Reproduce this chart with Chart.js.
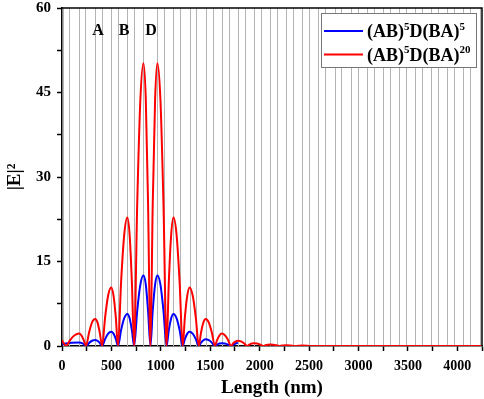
<!DOCTYPE html>
<html><head><meta charset="utf-8">
<script src="https://cdn.jsdelivr.net/npm/chart.js@4.4.1/dist/chart.umd.min.js"></script>
<style>html,body{margin:0;padding:0;background:#fff;} #wrap{width:484px;height:399px;}</style>
</head><body><div id="wrap"><canvas id="c" width="484" height="399"></canvas></div>
<script>
const seriesNames = ['(AB)^5D(BA)^5', '(AB)^5D(BA)^20'];
const seriesColors = ['#0000ff', '#ff0000'];

const blueLength = [0,40,100,172,208,243, 274,304,335,359,382,406, 437,467,498,521,544,567, 598,630,661,684,707,730, 761,793,824,848,871,895, 918,942,965,996,1027,1058, 1081,1105,1128,1159,1190,1221, 1244,1268,1291,1322,1353,1384, 1407,1431,1454,1485,1516,1547, 1570,1594,1617,1648,1679,1710, 1733,1757,1780];
const blueField = [0.3,0.45,0.58,0.6,0.45,0, 0.54,0.93,1.07,0.93,0.54,0, 1.27,2.2,2.54,2.2,1.27,0, 2.84,4.94,5.68,4.94,2.84,0, 6.25,10.9,12.5,10.9,6.25,0, 6.25,10.9,12.5,10.9,6.25,0, 2.84,4.94,5.68,4.94,2.84,0, 1.27,2.2,2.54,2.2,1.27,0, 0.6,1.03,1.19,1.03,0.6,0, 0.25,0.43,0.5,0.43,0.25,0, 0.25,0.45,0.55];

const redLength = [0,20,40, 84,128,172,196,219,243, 274,304,335,359,382,406, 437,467,498,521,544,567, 598,630,661,684,707,730, 761,793,824,848,871,895, 918,942,965,996,1027,1058, 1081,1105,1128,1159,1190,1221, 1244,1268,1291,1322,1353,1384, 1407,1431,1454,1485,1516,1547, 1570,1594,1617,1648,1679,1710, 1733,1757,1780,1811,1842,1873, 1896,1920,1943,1974,2005,2036, 2059,2083,2106,2137,2168,2199, 2230,2269,2310,2362, 2432,2525,4250];
const redField = [1.0,0.45,0, 1.1,1.9,2.2,1.9,1.1,0, 2.4,4.2,4.8,4.2,2.4,0, 5.2,9.0,10.4,9.0,5.2,0, 11.4,19.8,22.8,19.8,11.4,0, 25.1,43.7,50.2,43.7,25.1,0, 25.1,43.7,50.2,43.7,25.1,0, 11.4,19.8,22.8,19.8,11.4,0, 5.2,9.0,10.4,9.0,5.2,0, 2.4,4.2,4.8,4.2,2.4,0, 1.1,1.9,2.2,1.9,1.1,0, 0.48,0.83,0.95,0.83,0.48,0, 0.25,0.44,0.5,0.44,0.25,0, 0.14,0.24,0.28,0.24,0.14,0, 0.1,0.14,0.1,0, 0.07,0,0];

const layerBoundaries = [9,74,172,237,335,400,498,563,661,726,824,965,1035,1128,1198,1291,1361,1454,1524,1617,1687,1780,1850,1943,2013,2106,2176,2269,2339,2432,2502,2595,2665,2758,2828,2921,2991,3084,3154,3247,3317,3410,3480,3573,3643,3736,3806,3899,3969,4062,4132,4225];

const regionLabels = ['A', 'B', 'D'];
const regionLabelLength = [365, 628, 901];
const regionLabelField = 56;

const xMin = 0, xMax = 4250, xStep = 250, xLabelStep = 500;
const yMin = 0, yMax = 60, yStep = 7.5, yLabelStep = 15;

const FONT = '"Liberation Serif", "Times New Roman", serif';

function drawRich(ctx, str, x, y, base, sup) {
  const parts = str.split(/(\^\d+)/).filter(Boolean);
  ctx.textBaseline = 'alphabetic';
  ctx.textAlign = 'left';
  for (const p of parts) {
    if (p[0] === '^') {
      const t = p.slice(1);
      ctx.font = 'bold ' + sup + 'px ' + FONT;
      ctx.fillText(t, x, y - base * 0.4);
      x += ctx.measureText(t).width;
    } else {
      ctx.font = 'bold ' + base + 'px ' + FONT;
      ctx.fillText(p, x, y);
      x += ctx.measureText(p).width;
    }
  }
}

const decor = {
  id: 'decor',
  beforeDatasetsDraw(chart) {
    const {ctx, chartArea: a, scales: {x}} = chart;
    ctx.save();
    ctx.strokeStyle = '#b4b4b4';
    ctx.lineWidth = 1;
    for (const b of layerBoundaries) {
      const px = Math.round(x.getPixelForValue(b)) + 0.5;
      if (px < a.left + 1 || px > a.right - 1) continue;
      ctx.beginPath(); ctx.moveTo(px, a.top); ctx.lineTo(px, a.bottom); ctx.stroke();
    }
    ctx.restore();
  },
  afterDatasetsDraw(chart) {
    const {ctx, chartArea: a, scales: {x, y}} = chart;
    ctx.save();
    ctx.strokeStyle = '#000';
    ctx.lineWidth = 1.5;
    ctx.beginPath();
    ctx.moveTo(a.left, a.top); ctx.lineTo(a.right, a.top); ctx.lineTo(a.right, a.bottom);
    ctx.stroke();
    ctx.fillStyle = '#000';
    ctx.font = 'bold 16px ' + FONT;
    ctx.textAlign = 'center';
    ctx.textBaseline = 'middle';
    regionLabels.forEach((t, i) => {
      ctx.fillText(t, x.getPixelForValue(regionLabelLength[i]), y.getPixelForValue(regionLabelField));
    });
    const bx = a.right - 161, by = a.top + 5, bw = 155, bh = 54;
    ctx.fillStyle = '#fff';
    ctx.fillRect(bx, by, bw, bh);
    ctx.strokeStyle = '#777';
    ctx.lineWidth = 1;
    ctx.strokeRect(bx + 0.5, by + 0.5, bw, bh);
    seriesNames.forEach((name, i) => {
      const ly = by + 18 + i * 23.5;
      ctx.strokeStyle = seriesColors[i];
      ctx.lineWidth = 2;
      ctx.beginPath(); ctx.moveTo(bx + 3, ly); ctx.lineTo(bx + 42, ly); ctx.stroke();
      ctx.fillStyle = '#000';
      drawRich(ctx, name, bx + 46, ly + 6, 18, 11);
    });
    ctx.restore();
  }
};

const tickFont = {family: FONT, weight: 'bold', size: 14};

new Chart(document.getElementById('c'), {
  type: 'line',
  data: {
    datasets: [
      {label: seriesNames[0], data: blueLength.map((v, i) => ({x: v, y: blueField[i]})), borderColor: seriesColors[0], borderWidth: 2, pointRadius: 0, cubicInterpolationMode: 'monotone', fill: false, order: 1},
      {label: seriesNames[1], data: redLength.map((v, i) => ({x: v, y: redField[i]})), borderColor: seriesColors[1], borderWidth: 2, pointRadius: 0, cubicInterpolationMode: 'monotone', fill: false, order: 0}
    ]
  },
  options: {
    responsive: false,
    animation: false,
    devicePixelRatio: 1,
    layout: {padding: {top: 8, right: 2, left: 0, bottom: 0}},
    plugins: {legend: {display: false}, tooltip: {enabled: false}},
    scales: {
      x: {
        type: 'linear', min: xMin, max: xMax,
        ticks: {stepSize: xStep, autoSkip: false, maxRotation: 0, color: '#000', font: tickFont, padding: 7,
          callback: v => (v % xLabelStep === 0 ? String(v) : '')},
        grid: {drawOnChartArea: false, drawTicks: true, tickLength: 5, tickColor: '#000', tickWidth: 1.5},
        border: {color: '#000', width: 1.5},
        title: {display: true, text: 'Length (nm)', color: '#000', font: {family: FONT, weight: 'bold', size: 19}, padding: 0},
        afterFit: s => { s.height = 53; s.paddingLeft = 0; s.paddingRight = 0; }
      },
      y: {
        min: yMin, max: yMax,
        ticks: {stepSize: yStep, autoSkip: false, color: '#000', font: {family: FONT, weight: 'bold', size: 15}, padding: 6,
          callback: v => (v % yLabelStep === 0 ? String(v) : '')},
        grid: {drawOnChartArea: false, drawTicks: true, tickLength: 5, tickColor: '#000', tickWidth: 1.5},
        border: {color: '#000', width: 1.5},
        title: {display: true, text: '|E|²', color: '#000', font: {family: FONT, weight: 'bold', size: 19}, padding: {top: 4, bottom: 0}},
        afterFit: s => { s.width = 62; s.paddingTop = 0; s.paddingBottom = 0; }
      }
    }
  },
  plugins: [decor]
});
</script>
</body></html>
